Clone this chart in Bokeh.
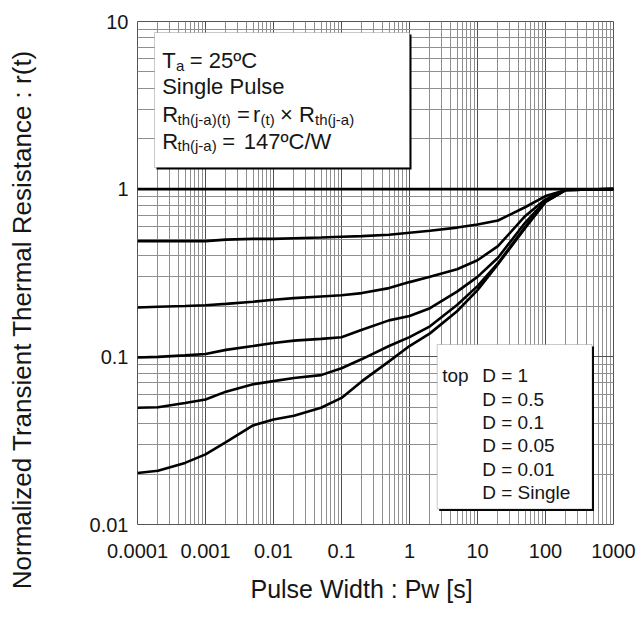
import math
from bokeh.plotting import figure
from bokeh.layouts import row
from bokeh.models import FixedTicker, Label, BoxAnnotation
from bokeh.embed import file_html
from bokeh.resources import INLINE

# ---------------- data ----------------
pulse_width = [1e-4, 2e-4, 5e-4, 1e-3, 2e-3, 5e-3, 1e-2, 2e-2, 5e-2, 0.1, 0.2,
               0.5, 1, 2, 5, 10, 20, 50, 100, 200, 1000]
r_d1 = [1.0, 1.0, 1.0, 1.0, 1.0, 1.0, 1.0, 1.0, 1.0, 1.0, 1.0,
        1.0, 1.0, 1.0, 1.0, 1.0, 1.0, 1.0, 1.0, 1.0, 1.0]
r_d05 = [0.49, 0.49, 0.49, 0.49, 0.50, 0.505, 0.505, 0.51, 0.515, 0.52, 0.525,
         0.535, 0.55, 0.565, 0.59, 0.615, 0.65, 0.78, 0.91, 0.99, 1.0]
r_d01 = [0.197, 0.199, 0.201, 0.203, 0.207, 0.213, 0.219, 0.224, 0.229, 0.233, 0.24,
         0.257, 0.279, 0.30, 0.333, 0.377, 0.457, 0.69, 0.87, 0.99, 1.0]
r_d005 = [0.099, 0.100, 0.102, 0.104, 0.11, 0.116, 0.121, 0.125, 0.128, 0.131, 0.145,
          0.165, 0.175, 0.195, 0.245, 0.30, 0.39, 0.63, 0.85, 0.99, 1.0]
r_d001 = [0.0497, 0.050, 0.053, 0.0557, 0.062, 0.0686, 0.0716, 0.0747, 0.0778, 0.0855, 0.097,
          0.116, 0.131, 0.152, 0.204, 0.264, 0.362, 0.594, 0.84, 0.99, 1.0]
r_single = [0.0203, 0.0209, 0.0233, 0.0262, 0.031, 0.039, 0.0423, 0.0445, 0.0497, 0.0569, 0.0716,
            0.094, 0.116, 0.138, 0.187, 0.25, 0.357, 0.585, 0.84, 0.99, 1.0]
series = [r_d1, r_d05, r_d01, r_d005, r_d001, r_single]

x_ticks = [1e-4, 1e-3, 1e-2, 1e-1, 1, 10, 100, 1000]
x_tick_labels = ["0.0001", "0.001", "0.01", "0.1", "1", "10", "100", "1000"]
y_ticks = [0.01, 0.1, 1, 10]
y_tick_labels = ["0.01", "0.1", "1", "10"]
minor_mult = [2, 3, 4, 5, 6, 7, 8, 9]

legend_head = "top"
legend_items = ["D = 1", "D = 0.5", "D = 0.1", "D = 0.05", "D = 0.01", "D = Single"]

x_title = "Pulse Width : Pw [s]"
y_title = "Normalized Transient Thermal Resistance : r(t)"

FONT = "Liberation Sans"
TXT = "#161616"
NBSP = "\u00a0"
W, H = 639, 619
TW = 40  # width of the strip that carries the y title
FL, FB = 137, 524  # page position of the main frame's left / bottom edge

# ---------------- main figure ----------------
p = figure(width=W - TW, height=H, x_axis_type="log", y_axis_type="log",
           x_range=(1e-4, 1e3), y_range=(0.01, 10),
           output_backend="svg", toolbar_location=None,
           min_border_left=FL - TW, min_border_right=26, min_border_top=21, min_border_bottom=95)
p.background_fill_color = "white"
p.border_fill_color = "white"
p.outline_line_color = "#555555"
p.outline_line_width = 1

x_minor = [m * v for v in x_ticks[:-1] for m in minor_mult]
y_minor = [m * v for v in y_ticks[:-1] for m in minor_mult]
p.xaxis.ticker = FixedTicker(ticks=x_ticks, minor_ticks=x_minor)
p.yaxis.ticker = FixedTicker(ticks=y_ticks, minor_ticks=y_minor)
p.xaxis.major_label_overrides = dict(zip(x_ticks, x_tick_labels))
p.yaxis.major_label_overrides = dict(zip(y_ticks, y_tick_labels))

for ax in (p.xaxis, p.yaxis):
    ax.axis_line_color = None
    ax.major_tick_line_color = None
    ax.minor_tick_line_color = None
    ax.major_tick_out = 0
    ax.major_tick_in = 0
    ax.minor_tick_out = 0
    ax.minor_tick_in = 0
    ax.major_label_text_font = FONT
    ax.major_label_text_font_size = "20px"
    ax.major_label_text_color = TXT
    ax.axis_label_text_font = FONT
    ax.axis_label_text_font_style = "normal"
    ax.axis_label_text_color = TXT
p.xaxis.major_label_standoff = 19
p.yaxis.major_label_standoff = 9

# x title (the reference places it slightly left of centre)
xa = p.xaxis[0]
xa.axis_label = x_title + NBSP * 4
xa.axis_label_text_font_size = "25px"
xa.axis_label_standoff = 14

for g in (p.xgrid, p.ygrid):
    g.grid_line_color = "#505050"
    g.grid_line_width = 1
    g.minor_grid_line_color = "#8f8f8f"
    g.minor_grid_line_width = 1

for ys in series:
    p.line(pulse_width, ys, line_color="black", line_width=2.6)


def box(l, t_, r, b):
    p.add_layout(BoxAnnotation(left=l + 2 - FL, right=r + 2 - FL, top=FB - t_ - 2, bottom=FB - b - 2,
                               left_units="screen", right_units="screen",
                               top_units="screen", bottom_units="screen",
                               fill_color="black", fill_alpha=1.0, line_color=None))
    p.add_layout(BoxAnnotation(left=l - FL, right=r - FL, top=FB - t_, bottom=FB - b,
                               left_units="screen", right_units="screen",
                               top_units="screen", bottom_units="screen",
                               fill_color="white", fill_alpha=1.0, line_color="#505050",
                               line_width=1))


def txt(s, x, base, size):
    p.add_layout(Label(x=x - FL, y=FB - base, x_units="screen", y_units="screen",
                       text=s, text_font=FONT, text_font_size=f"{size}px",
                       text_color=TXT, text_align="left", text_baseline="alphabetic"))


# top-left info box
box(154, 32, 409, 167)
BIG, SUB = 22, 15
txt("T", 161.7, 60, BIG)
txt("a", 175.5, 64.5, SUB)
txt("= 25ºC", 189.3, 60, BIG)
txt("Single Pulse", 161.7, 85.5, BIG)
txt("R", 161.7, 114, BIG)
txt("th(j-a)(t)", 177, 118.5, SUB)
txt("=", 236.5, 114, BIG)
txt("r", 252.5, 114, BIG)
txt("(t)", 260, 118.5, SUB)
txt("×", 279.5, 114, BIG)
txt("R", 298.5, 114, BIG)
txt("th(j-a)", 314.5, 118.5, SUB)
txt("R", 161.7, 140.5, BIG)
txt("th(j-a)", 177, 145, SUB)
txt("=", 221.7, 140.5, BIG)
txt("147ºC/W", 243.3, 140.5, BIG)

# bottom-right legend box
box(436.7, 344, 591.5, 508.5)
txt(legend_head, 441.7, 375.3, 19)
for i, s in enumerate(legend_items):
    txt(s, 481.7, 375.3 + 23.3 * i, 19)

# ---------------- y title ----------------
if "frame_align" in p.properties():
    # a separate strip whose own frame spans the whole height
    t = figure(width=TW, height=H, x_range=(0, 1), y_range=(0, 1),
               output_backend="svg", toolbar_location=None,
               x_axis_location=None, y_axis_location=None,
               min_border_left=0, min_border_right=0, min_border_top=0, min_border_bottom=0)
    t.frame_align = False
    p.frame_align = False
    t.grid.visible = False
    t.outline_line_color = None
    t.background_fill_color = "white"
    t.border_fill_color = "white"
    t.add_layout(Label(x=21, y=H - 319, x_units="screen", y_units="screen", text=y_title,
                       angle=math.pi / 2, text_align="center", text_baseline="middle",
                       text_font=FONT, text_font_size="26px", text_color=TXT))
    root = row(t, p, spacing=0)
else:
    p.width = W
    p.min_border_left = FL
    ya = p.yaxis[0]
    ya.axis_label = y_title + NBSP * 13
    ya.axis_label_text_font_size = "26px"
    ya.axis_label_standoff = 52
    root = p

open("out.html", "w").write(file_html(root, INLINE))
